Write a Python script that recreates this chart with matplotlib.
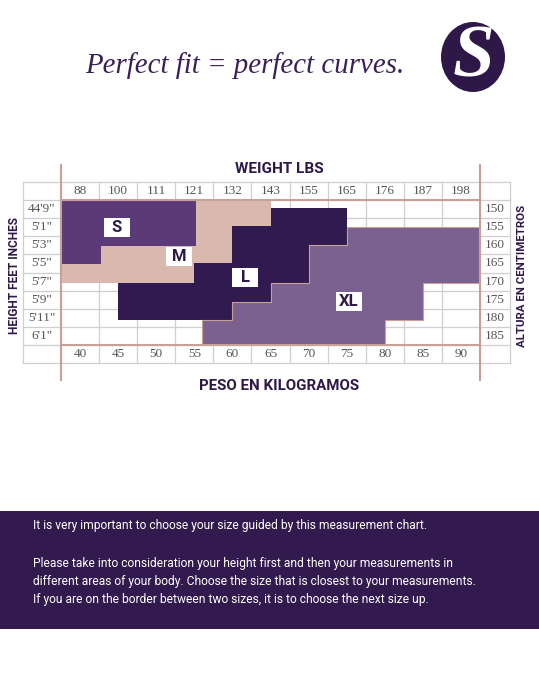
import matplotlib.pyplot as plt
from matplotlib.patches import Polygon, Rectangle, Ellipse

W, H = 539, 697
fig = plt.figure(figsize=(W / 100, H / 100), dpi=100)

NARROW = ['Liberation Sans Narrow', 'Roboto', 'DejaVu Sans']
DARK = '#2e1848'
PINK_LINE = '#c9a097'
GRID = '#cfcfcf'

# table labels
weights_lbs = [88, 100, 111, 121, 132, 143, 155, 165, 176, 187, 198]
weights_kg = [40, 45, 50, 55, 60, 65, 70, 75, 80, 85, 90]
heights_ft = ['44\'9"', '5\'1"', '5\'3"', '5\'5"', '5\'7"', '5\'9"', '5\'11"', '6\'1"']
heights_cm = [150, 155, 160, 165, 170, 175, 180, 185]

# size regions: outline in (weight column, height row) units
size_names = ['S', 'M', 'L', 'XL']
size_colors = ['#5c3a78', '#d9b9ae', '#311a4f', '#7a618f']
size_S = [(0, 0), (3.55, 0), (3.55, 2.55), (1.05, 2.55), (1.05, 3.55), (0, 3.55)]
size_M = [(0, 3.55), (1.05, 3.55), (1.05, 2.55), (3.55, 2.55), (3.55, 0), (5.5, 0),
          (5.5, 1.45), (4.5, 1.45), (4.5, 3.5), (3.5, 3.5), (3.5, 4.58), (0, 4.58)]
size_L = [(5.5, 0.45), (7.5, 0.45), (7.5, 2.5), (6.5, 2.5), (6.5, 4.58), (5.5, 4.58),
          (5.5, 5.6), (4.5, 5.6), (4.5, 6.6), (1.5, 6.6), (1.5, 4.58), (3.5, 4.58),
          (3.5, 3.5), (4.5, 3.5), (4.5, 1.45), (5.5, 1.45)]
size_XL = [(7.5, 1.5), (11, 1.5), (11, 4.58), (9.5, 4.58), (9.5, 6.6), (8.5, 6.6),
           (8.5, 8), (3.7, 8), (3.7, 6.6), (4.5, 6.6), (4.5, 5.6), (5.5, 5.6),
           (5.5, 4.58), (6.5, 4.58), (6.5, 2.5), (7.5, 2.5)]
size_outlines = [size_S, size_M, size_L, size_XL]
label_x = [1.47, 3.1, 4.84, 7.55]
label_y = [1.52, 3.14, 4.28, 5.6]

note_lines = [
    "It is very important to choose your size guided by this measurement chart.",
    "",
    "Please take into consideration your height first and then your measurements in",
    "different areas of your body. Choose the size that is closest to your measurements.",
    "If you are on the border between two sizes, it is to choose the next size up.",
]

renderer = fig.canvas.get_renderer()


def fit(t, target, dim='width'):
    ext = t.get_window_extent(renderer)
    size = ext.width if dim == 'width' else ext.height
    t.set_fontsize(t.get_fontsize() * target / size)


# chart area
ax = fig.add_axes([61 / W, 1 - 345 / H, 419 / W, 145 / H])
ax.set_xlim(0, 11)
ax.set_ylim(8, 0)
ax.axis('off')

right_edge = 11.79
xs = [-1] + list(range(12)) + [right_edge]
for x in xs:
    ax.plot([x, x], [-1, 9], color=GRID, lw=0.9, clip_on=False, zorder=1)
for y in range(-1, 10):
    ax.plot([-1, right_edge], [y, y], color=GRID, lw=0.9, clip_on=False, zorder=1)

for name, col, pts in zip(size_names, size_colors, size_outlines):
    ec = PINK_LINE if name == 'XL' else 'none'
    ax.add_patch(Polygon(pts, closed=True, facecolor=col, edgecolor=ec, lw=0.8, zorder=2))

for name, x, y in zip(size_names, label_x, label_y):
    ax.add_patch(Rectangle((x - 0.34, y - 0.52), 0.68, 1.04, facecolor='white',
                           edgecolor='none', zorder=6))
    ax.text(x, y, name, ha='center', va='center', fontsize=12, fontweight='bold',
            family=NARROW, color=DARK, zorder=7)

# pink frame lines
for x in [0, 11]:
    ax.plot([x, x], [-1.93, 9.93], color=PINK_LINE, lw=1.5, clip_on=False, zorder=5)
for y in [0, 8]:
    ax.plot([0, 11], [y, y], color=PINK_LINE, lw=1.5, clip_on=False, zorder=5)

tick_style = dict(ha='center', va='center', fontsize=9.5, family='Liberation Serif',
                  color='#555555', clip_on=False)
for i, w in enumerate(weights_lbs):
    ax.text(i + 0.5, -0.5, str(w), **tick_style)
for i, k in enumerate(weights_kg):
    ax.text(i + 0.5, 8.5, str(k), **tick_style)
for i, h in enumerate(heights_ft):
    ax.text(-0.5, i + 0.5, h, **tick_style)
for i, c in enumerate(heights_cm):
    ax.text((11 + right_edge) / 2, i + 0.5, str(c), **tick_style)

head = dict(ha='center', va='center', fontweight='bold', family=NARROW, color=DARK,
            fontsize=12)
t = fig.text(279 / W, 1 - 169 / H, 'WEIGHT LBS', **head)
fit(t, 88)
t = fig.text(279 / W, 1 - 386 / H, 'PESO EN KILOGRAMOS', **head)
fit(t, 160)
t = fig.text(15 / W, 1 - 276 / H, 'HEIGHT FEET INCHES', rotation=90, **head)
fit(t, 118, 'height')
t = fig.text(522 / W, 1 - 276 / H, 'ALTURA EN CENTIMETROS', rotation=90, **head)
fit(t, 142, 'height')

# title
t = fig.text(245 / W, 1 - 66 / H, 'Perfect fit = perfect curves.', ha='center',
             va='center', fontsize=24, style='italic', family='Liberation Serif',
             color='#3b1f57')
fit(t, 320)

# logo
lax = fig.add_axes([441 / W, 1 - 92 / H, 64 / W, 70 / H])
lax.set_xlim(-1, 1)
lax.set_ylim(-1, 1)
lax.axis('off')
lax.add_patch(Ellipse((0, 0), 2, 2, facecolor='#2e1848', edgecolor='none'))
lax.text(0.02, -0.05, 'S', ha='center', va='center', color='white', fontsize=54,
         style='italic', fontweight='bold', family='Liberation Serif')

# note box
fig.patches.append(Rectangle((0, 1 - 629 / H), 1, 118 / H, transform=fig.transFigure,
                             facecolor='#321a4f', edgecolor='none', zorder=0))
note_y = [525, 544, 563, 582, 600]
texts = []
for line, y in zip(note_lines, note_y):
    texts.append(fig.text(33 / W, 1 - y / H, line, ha='left', va='center', color='white',
                          fontsize=11, family=NARROW))
fit(texts[3], 440)
for tt in texts:
    tt.set_fontsize(texts[3].get_fontsize())

fig.savefig('out.png', dpi=100)
